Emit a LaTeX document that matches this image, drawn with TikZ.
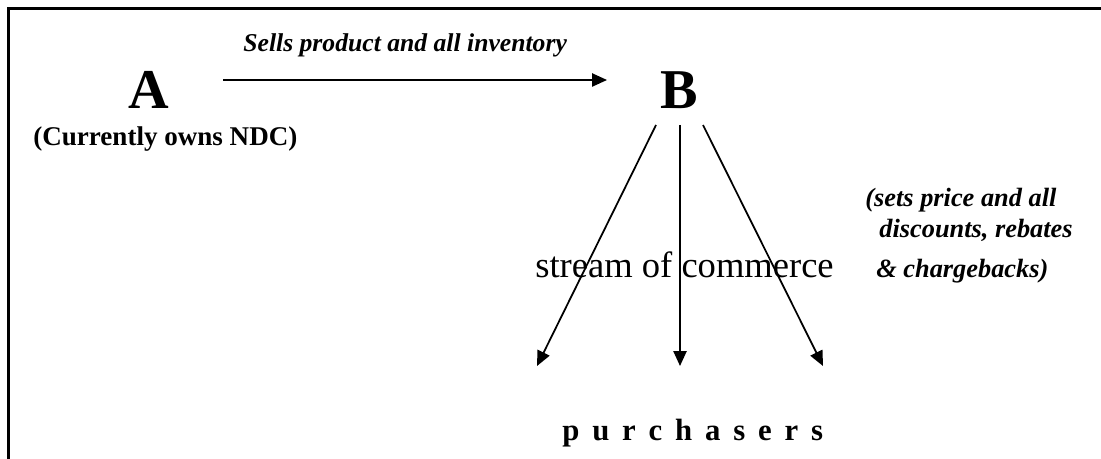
\documentclass[tikz,border=0pt]{standalone}
\usepackage{fontspec}
\setmainfont{Liberation Serif}
\usetikzlibrary{arrows.meta}

\tikzset{
  party/.style={inner sep=0pt, anchor=base, font=\bfseries\fontsize{32}{36}\selectfont},
  note/.style={inner sep=0pt, anchor=base west, font=\bfseries\itshape\fontsize{14.6}{17}\selectfont},
  flow/.style={line width=1pt, -{Triangle[length=8.5pt, width=7.5pt]}}
}

\begin{document}
\begin{tikzpicture}[x=0.02cm, y=-0.02cm]
\useasboundingbox (0,0) rectangle (1101,459);
\draw[line width=1.4pt] (8.5,459) -- (8.5,8.5) -- (1101,8.5);

\node[party] (A) at (148.5,109) {A};
\node[party] (B) at (679,109) {B};
\node[note, font=\bfseries\fontsize{15.4}{18}\selectfont] (owner) at (33,146) {(Currently owns NDC)};
\node[note] (sells) at (243,52) {Sells product and all inventory};

\coordinate (sellfrom) at (223,80);
\coordinate (sellto) at (607,80);
\draw[flow] (sellfrom) -- (sellto);

\coordinate (bl) at (656,125);
\coordinate (bm) at (680,125);
\coordinate (br) at (703,125);
\coordinate (pl) at (537,366);
\coordinate (pm) at (680,366);
\coordinate (pr) at (823,366);

\node[inner sep=0pt, anchor=base west, font=\fontsize{20.8}{24}\selectfont] (stream) at (535,277) {stream of commerce};

\draw[flow] (bl) -- (pl);
\draw[flow] (bm) -- (pm);
\draw[flow] (br) -- (pr);

\node[note, font=\bfseries\itshape\fontsize{15}{18}\selectfont] (price1) at (865,207) {(sets price and all};
\node[note, font=\bfseries\itshape\fontsize{15}{18}\selectfont] (price2) at (879,237) {discounts, rebates};
\node[note, font=\bfseries\itshape\fontsize{15}{18}\selectfont] (price3) at (876,277) {\& chargebacks)};

\node[inner sep=0pt, anchor=base west, font=\bfseries\fontsize{17.5}{20}\selectfont] (buyers) at (562,440) {\spaceskip=7.3pt\relax p u r c h a s e r s};
\end{tikzpicture}
\end{document}
